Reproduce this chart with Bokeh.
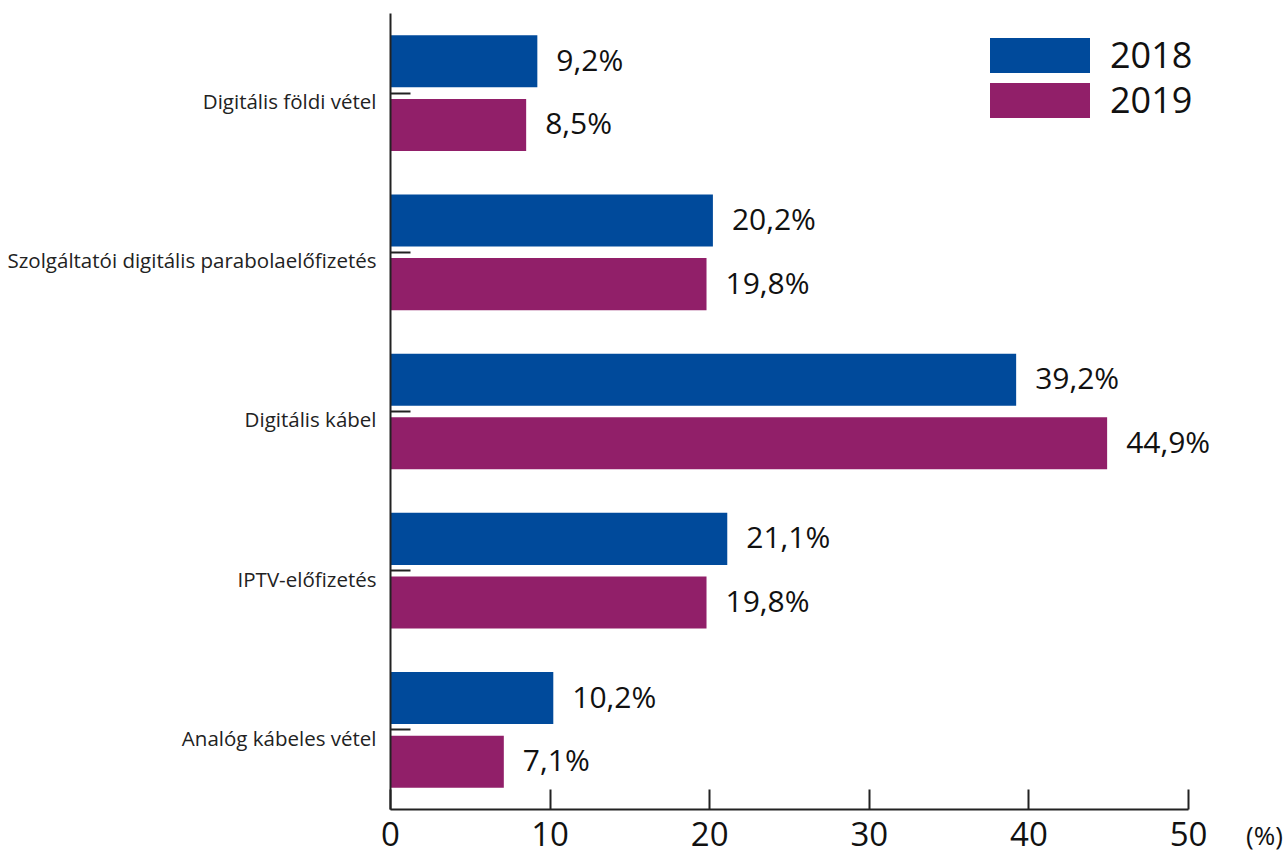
from bokeh.plotting import figure
from bokeh.models import (ColumnDataSource, Legend, LegendItem, LabelSet,
                          FixedTicker, Range1d)
from bokeh.transform import dodge
from bokeh.core.properties import value
from bokeh.embed import file_html
from bokeh.resources import INLINE

categories = ["Digitális földi vétel", "Szolgáltatói digitális parabolaelőfizetés",
              "Digitális kábel", "IPTV-előfizetés", "Analóg kábeles vétel"]
values_2018 = [9.2, 20.2, 39.2, 21.1, 10.2]
values_2019 = [8.5, 19.8, 44.9, 19.8, 7.1]
x_ticks = [0, 10, 20, 30, 40, 50]

BLUE = "#004A9B"
PURPLE = "#911F69"
AXIS = "#222222"
FONT = "Open Sans"

def fmt(v):
    return f"{v:.1f}".replace(".", ",") + "%"

n = len(categories)
ypos = [n - 0.5 - i for i in range(n)]          # category centres, first on top
label_pos = [y - 0.05 for y in ypos]              # labels sit slightly below the tick

src = ColumnDataSource(dict(
    y=ypos,
    v18=values_2018, v19=values_2019,
    l18=[fmt(v) for v in values_2018],
    l19=[fmt(v) for v in values_2019],
))

p = figure(width=1288, height=855, output_backend="svg", toolbar_location=None,
           y_range=Range1d(0, n), x_range=Range1d(0, 54.76),
           min_border_left=390, min_border_right=24, min_border_top=13, min_border_bottom=45)
p.outline_line_color = None
p.grid.grid_line_color = None
p.background_fill_color = "white"

r18 = p.hbar(y=dodge("y", 0.2), left=0, right="v18", height=0.327,
             color=BLUE, line_color=None, source=src)
r19 = p.hbar(y=dodge("y", -0.2), left=0, right="v19", height=0.327,
             color=PURPLE, line_color=None, source=src)

p.add_layout(LabelSet(x="v18", y=dodge("y", 0.2), text="l18", source=src,
                      x_offset=19, y_offset=2, text_baseline="middle", text_font=value(FONT),
                      text_font_size="30px", text_color="#111111"))
p.add_layout(LabelSet(x="v19", y=dodge("y", -0.2), text="l19", source=src,
                      x_offset=19, y_offset=2, text_baseline="middle", text_font=value(FONT),
                      text_font_size="30px", text_color="#111111"))

# x axis
xa = p.xaxis[0]
xa.ticker = FixedTicker(ticks=x_ticks)
xa.bounds = (0, 50)
xa.axis_line_color = AXIS
xa.axis_line_width = 2
xa.major_tick_line_color = AXIS
xa.major_tick_line_width = 2
xa.major_tick_in = 20
xa.major_tick_out = 0
xa.minor_tick_line_color = None
xa.major_label_text_font = FONT
xa.major_label_text_font_size = "33px"
xa.major_label_text_color = "#111111"
xa.major_label_standoff = 12
xa.axis_label = "(%)"
xa.axis_label_text_font = FONT
xa.axis_label_text_font_size = "26px"
xa.axis_label_text_font_style = "normal"
xa.axis_label_text_color = "#111111"
xa.axis_label_standoff = -32
xa.axis_label_align = "end"

# y axis: ticks (as minor ticks) at category centres, labels slightly below
ya = p.yaxis[0]
ya.ticker = FixedTicker(ticks=label_pos, minor_ticks=ypos)
ya.axis_line_color = AXIS
ya.axis_line_width = 2
ya.major_tick_line_color = None
ya.minor_tick_line_color = AXIS
ya.minor_tick_line_width = 2
ya.minor_tick_in = 20
ya.minor_tick_out = 0
ya.major_tick_in = 0
ya.major_tick_out = 0
ya.major_label_text_font = FONT
ya.major_label_text_font_size = "20.5px"
ya.major_label_text_color = "#222222"
ya.major_label_standoff = 14
ya.major_label_overrides = {lp: c for lp, c in zip(label_pos, categories)}

common = dict(glyph_width=125, glyph_height=44, label_text_font=FONT,
              label_text_font_size="36px", label_standoff=8, spacing=0, padding=0,
              margin=0, border_line_color=None, background_fill_alpha=0,
              label_text_color="#111111")
p.add_layout(Legend(items=[LegendItem(label="2018", renderers=[r18])],
                    location=(587, 730), **common))
p.add_layout(Legend(items=[LegendItem(label="2019", renderers=[r19])],
                    location=(587, 685), **common))

open("out.html", "w").write(file_html(p, INLINE))
